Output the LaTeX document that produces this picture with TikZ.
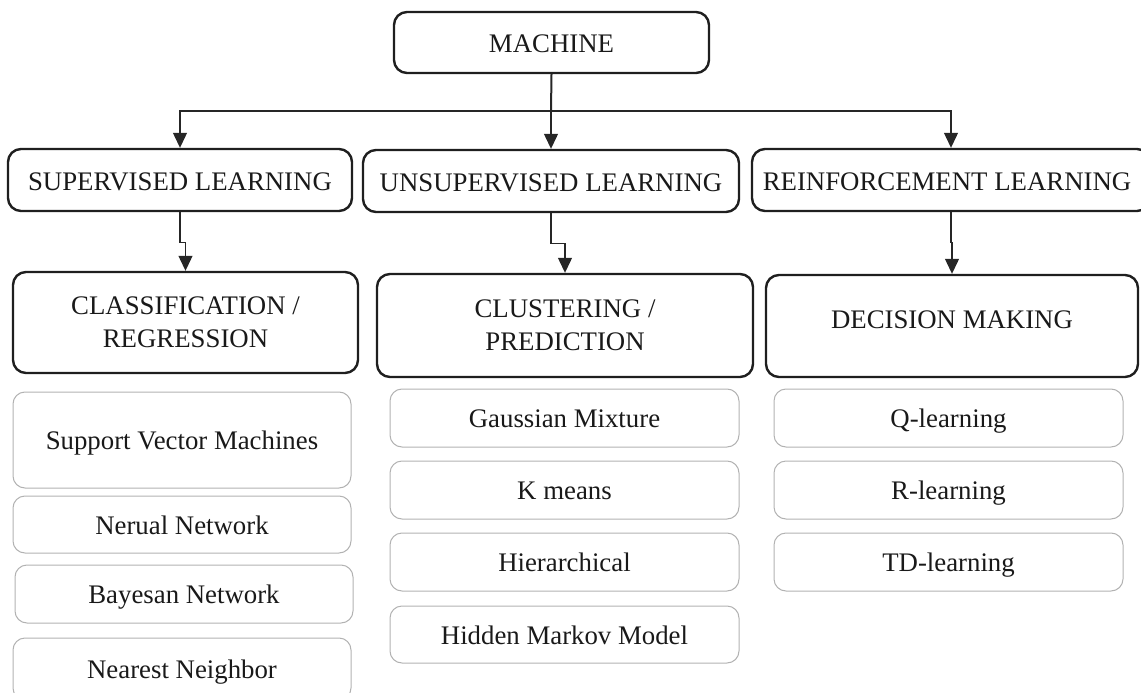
\documentclass[tikz,border=0pt]{standalone}
\usepackage{fontspec}
\setmainfont{Liberation Serif}
\usetikzlibrary{arrows.meta}
\begin{document}
\begin{tikzpicture}[x=1pt,y=-1pt,
  mainbox/.style={draw=black!88, line width=2.4pt, rounded corners=13pt, inner sep=0pt,
    text=black!90, font=\fontsize{26.8}{33}\selectfont, align=center},
  oneline/.style={text height=21pt, text depth=0pt},
  itembox/.style={draw=black!30, line width=1pt, rounded corners=12pt, inner sep=0pt,
    text=black!90, font=\fontsize{26.8}{33}\selectfont, align=center,
    text height=24pt, text depth=4.5pt},
  conn/.style={draw=black!85, line width=1.2pt},
  arr/.style={conn, -{Triangle[length=15pt,width=14pt]}}
]
\useasboundingbox (0,0) rectangle (1141,693);

% top
\node[mainbox, oneline, minimum width=315pt, minimum height=61pt] (machine) at (551.5,42.5) {MACHINE};

% first level
\node[mainbox, oneline, minimum width=344pt, minimum height=62pt] (sup) at (180,180) {SUPERVISED LEARNING};
\node[mainbox, oneline, minimum width=376pt, minimum height=62pt] (unsup) at (551,181) {UNSUPERVISED LEARNING};
\node[mainbox, oneline, minimum width=398pt, minimum height=62pt] (reinf) at (951,180) {\hspace*{-8pt}REINFORCEMENT LEARNING};

% second level
\node[mainbox, minimum width=345pt, minimum height=101pt] (class) at (185.5,322.5) {CLASSIFICATION /\\REGRESSION};
\node[mainbox, minimum width=376pt, minimum height=103pt] (clust) at (565,325.5) {CLUSTERING /\\PREDICTION};
\node[mainbox, minimum width=372pt, minimum height=102pt] (dec) at (952,326) {\raisebox{13pt}{DECISION MAKING}};

% connectors
\coordinate (br) at (551,111);
\draw[conn, line width=2pt] (machine.south) -- (br);
\draw[arr] (br) -| (sup.north);
\draw[arr] (br) -- (unsup.north);
\draw[arr] (br) -| (reinf.north);

\draw[arr] (sup.south) -- ++(0,30) -| (class.north);
\draw[arr] (unsup.south) -- ++(0,30) -| (clust.north);
\draw[arr] (reinf.south) -- ++(0,30) -| (dec.north);

% items: left column
\node[itembox, minimum width=338pt, minimum height=96pt] (svm) at (182,440) {Support Vector Machines};
\node[itembox, minimum width=338pt, minimum height=57pt] (nn) at (182,524.5) {Nerual Network};
\node[itembox, minimum width=338pt, minimum height=58pt] (bn) at (184,594) {Bayesan Network};
\node[itembox, minimum width=338pt, minimum height=62pt] (near) at (182,669) {Nearest Neighbor};

% items: middle column
\node[itembox, minimum width=349pt, minimum height=58pt] (gm) at (564.5,418) {Gaussian Mixture};
\node[itembox, minimum width=349pt, minimum height=58pt] (km) at (564.5,490) {K means};
\node[itembox, minimum width=349pt, minimum height=58pt] (hi) at (564.5,562) {Hierarchical};
\node[itembox, minimum width=349pt, minimum height=57pt] (hmm) at (564.5,634.5) {Hidden Markov Model};

% items: right column
\node[itembox, minimum width=349pt, minimum height=58pt] (ql) at (948.5,418) {Q-learning};
\node[itembox, minimum width=349pt, minimum height=58pt] (rl) at (948.5,490) {R-learning};
\node[itembox, minimum width=349pt, minimum height=58pt] (td) at (948.5,562) {TD-learning};
\end{tikzpicture}
\end{document}
